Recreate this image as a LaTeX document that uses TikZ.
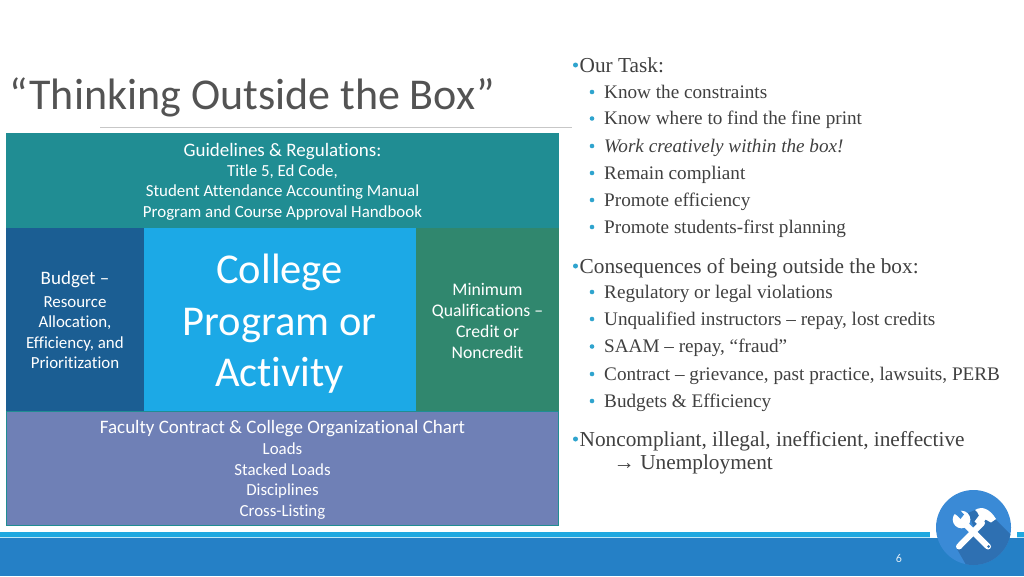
\documentclass[tikz,border=0pt]{standalone}
\usepackage{fontspec}
\setmainfont{Liberation Serif}
\newfontfamily\calfont[Ligatures=NoCommon]{Carlito}
\definecolor{topC}{HTML}{208D93}
\definecolor{budC}{HTML}{1B5E93}
\definecolor{colC}{HTML}{1CA9E6}
\definecolor{minC}{HTML}{30876E}
\definecolor{facC}{HTML}{6F80B6}
\definecolor{barC}{HTML}{2580C6}
\definecolor{stripC}{HTML}{1FA8E0}
\definecolor{circC}{HTML}{3A8AD6}
\definecolor{shadC}{HTML}{2E70B2}
\definecolor{bulC}{HTML}{2FA4CE}
\definecolor{txtC}{HTML}{404040}
\tikzset{
 panel/.style={draw=none,fill=#1},
 lab/.style={text=white,font=\calfont\fontsize{16.9}{20.5}\selectfont,align=center,inner sep=0pt},
 labh/.style={text=white,font=\calfont\fontsize{19}{20.5}\selectfont,inner sep=0pt},
 big/.style={text=white,font=\calfont\fontsize{42.5}{51.5}\selectfont,align=center,inner sep=0pt},
 mainb/.style={anchor=base west,text=txtC,inner sep=0pt,font=\fontsize{21.3}{24}\selectfont},
 subb/.style={anchor=base west,text=txtC,inner sep=0pt,font=\fontsize{19.18}{24}\selectfont},
 mdot/.style={circle,fill=bulC,inner sep=0pt,minimum size=5pt},
 sdot/.style={circle,fill=bulC,inner sep=0pt,minimum size=4.6pt},
}
\newcommand{\mitem}[3]{\node[mainb] (#1) at (579.5,#2) {#3};\node[mdot] (#1d) at (575.5,#2-7) {};}
\newcommand{\sitem}[3]{\node[subb] (#1) at (604,#2) {#3};\node[sdot] (#1d) at (592,#2-6) {};}
\begin{document}
\begin{tikzpicture}[x=1pt,y=-1pt]
\useasboundingbox (0,0) rectangle (1024,576);
\fill[white] (0,0) rectangle (1024,576);
% title
\node[anchor=base west,inner sep=0pt,text=txtC!90!white,font=\calfont\fontsize{44}{50}\selectfont] (title) at (9,109.5) {“Thinking Outside the Box”};
\coordinate (ruleA) at (100,127.5);
\coordinate (ruleB) at (572,127.5);
\draw[black!22,line width=1pt] (ruleA) -- (ruleB);
% panels
\path[panel=budC] (6,227) rectangle (144,411.5);
\path[panel=minC] (415,227) rectangle (559,411.5);
\path[panel=topC] (6,133) rectangle (559,228);
\path[panel=facC,draw=topC,line width=.8pt] (6.5,411.5) rectangle (558.5,525);
\path[panel=colC] (143.5,227.8) rectangle (415.5,411);
% panel text
\node[labh] (g1) at (282.5,152) {Guidelines \& Regulations:};
\node[lab] (g2) at (282.5,192.5) {Title 5, Ed Code,\\Student Attendance Accounting Manual\\Program and Course Approval Handbook};
\node[labh] (b1) at (75,280) {Budget –};
\node[lab] (b2) at (75,332.5) {Resource\\Allocation,\\Efficiency, and\\Prioritization};
\node[big] (c) at (279.5,324) {College\\Program or\\Activity};
\node[lab,font=\calfont\fontsize{17.7}{21}\selectfont] (m) at (487.5,320.5) {Minimum\\Qualifications –\\Credit or\\Noncredit};
\node[labh] (f1) at (282.5,428.5) {Faculty Contract \& College Organizational Chart};
\node[lab] (f2) at (282.5,481) {Loads\\Stacked Loads\\Disciplines\\Cross-Listing};
% right column
\mitem{a0}{72}{Our Task:}
\sitem{a1}{98}{Know the constraints}
\sitem{a2}{124.5}{Know where to find the fine print}
\sitem{a3}{152}{\itshape Work creatively within the box!}
\sitem{a4}{179}{Remain compliant}
\sitem{a5}{206}{Promote efficiency}
\sitem{a6}{233}{Promote students-first planning}
\mitem{b0}{273}{Consequences of being outside the box:}
\sitem{s1}{298}{Regulatory or legal violations}
\sitem{s2}{325}{Unqualified instructors – repay, lost credits}
\sitem{s3}{352.5}{SAAM – repay, “fraud”}
\sitem{s4}{380}{Contract – grievance, past practice, lawsuits, PERB}
\sitem{s5}{407}{Budgets \& Efficiency}
\mitem{n0}{446}{Noncompliant, illegal, inefficient, ineffective}
\node[mainb] (n1) at (613.5,469) {→ Unemployment};
% footer
\fill[barC] (0,532) rectangle (1024,576);
\fill[stripC] (0,532) rectangle (1024,537);
\fill[white!70!stripC] (0,537) rectangle (1024,538);
\fill[white] (930,525) rectangle (1017,538);
\node[inner sep=0pt,text=white!85!barC,font=\calfont\fontsize{12}{12}\selectfont] (page) at (899,558) {6};
% badge
\fill[circC] (973.5,527.5) circle (37.5);
\begin{scope}
\clip (973.5,527.5) circle (37.5);
\fill[shadC] (957,549) -- (975,530) -- (968,513) -- (975,510) -- (996,520) -- (1030,554) -- (985,598) -- cycle;
\end{scope}
% hammer
\draw[white,line width=6pt,line cap=round] (959,546.5) -- (982,523);
\fill[white] (975,510) .. controls (982,505.5) and (990,509) .. (996,519) -- (991,522.5) -- (985.5,519.5) -- (980,527) -- (974.5,521.5) -- (979,515.5) .. controls (978,513) and (977,511.5) .. (975,510) -- cycle;
% wrench
\draw[white,line width=6pt,line cap=round] (963,522) -- (988,546.5);
\fill[white] (961.5,519.5) circle (8.8);
\fill[circC] (960.5,519) -- (957,515.5) -- (950,510.5) -- (954.5,504) -- (964,514.5) -- cycle;
\fill[shadC] (988.5,546.5) circle (1.5);
\end{tikzpicture}
\end{document}
